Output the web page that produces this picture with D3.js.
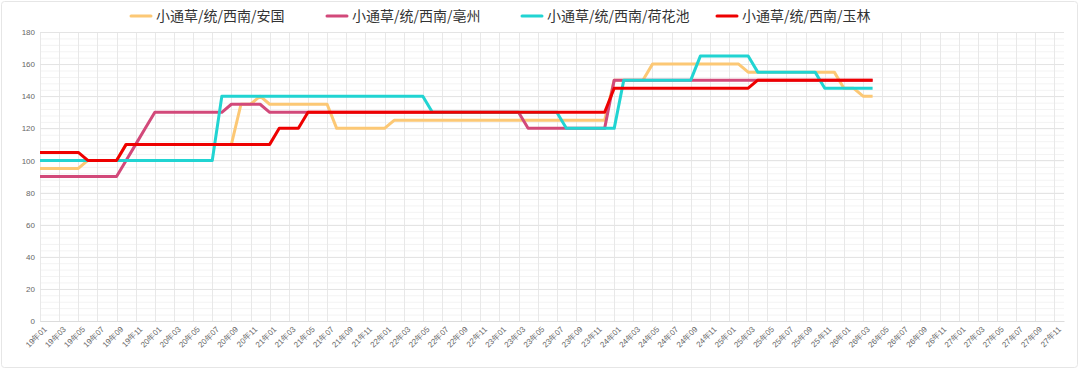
<!DOCTYPE html>
<html lang="zh">
<head>
<meta charset="utf-8">
<title>小通草 价格走势</title>
<script src="https://d3js.org/d3.v7.min.js"></script>
<style>
  body { margin: 0; background: #fff; }
  svg { display: block; font-family: "Noto Sans CJK SC", "Noto Sans", sans-serif; }
  .tick text { fill: #666; font-size: 8px; }
  .legend text { font-size: 14px; fill: #333; }
</style>
</head>
<body>
<svg width="1080" height="374"></svg>
<script>
// months 19年01 .. 27年12
const months = [];
for (let y = 19; y <= 27; y++) {
  for (let m = 1; m <= 12; m++) months.push(y + "年" + String(m).padStart(2, "0"));
}

const names = ["小通草/统/西南/安国", "小通草/统/西南/亳州", "小通草/统/西南/荷花池", "小通草/统/西南/玉林"];
const colors = ["#fcc875", "#d2497a", "#21d4d2", "#ee0000"];

// values from 19年01 to 26年04
const anguo = [
  95, 95, 95, 95, 95, 100, 100, 100, 100, 110, 110, 110,
  110, 110, 110, 110, 110, 110, 110, 110, 110, 135, 135, 140,
  135, 135, 135, 135, 135, 135, 135, 120, 120, 120, 120, 120,
  120, 125, 125, 125, 125, 125, 125, 125, 125, 125, 125, 125,
  125, 125, 125, 125, 125, 125, 125, 125, 125, 125, 125, 125,
  150, 150, 150, 150, 160, 160, 160, 160, 160, 160, 160, 160,
  160, 160, 155, 155, 155, 155, 155, 155, 155, 155, 155, 155,
  145, 145, 140, 140
];
const bozhou = [
  90, 90, 90, 90, 90, 90, 90, 90, 90, 100, 110, 120,
  130, 130, 130, 130, 130, 130, 130, 130, 135, 135, 135, 135,
  130, 130, 130, 130, 130, 130, 130, 130, 130, 130, 130, 130,
  130, 130, 130, 130, 130, 130, 130, 130, 130, 130, 130, 130,
  130, 130, 130, 120, 120, 120, 120, 120, 120, 120, 120, 120,
  150, 150, 150, 150, 150, 150, 150, 150, 150, 150, 150, 150,
  150, 150, 150, 150, 150, 150, 150, 150, 150, 150, 150, 150,
  150, 150, 150, 150
];
const hehuachi = [
  100, 100, 100, 100, 100, 100, 100, 100, 100, 100, 100, 100,
  100, 100, 100, 100, 100, 100, 100, 140, 140, 140, 140, 140,
  140, 140, 140, 140, 140, 140, 140, 140, 140, 140, 140, 140,
  140, 140, 140, 140, 140, 130, 130, 130, 130, 130, 130, 130,
  130, 130, 130, 130, 130, 130, 130, 120, 120, 120, 120, 120,
  120, 150, 150, 150, 150, 150, 150, 150, 150, 165, 165, 165,
  165, 165, 165, 155, 155, 155, 155, 155, 155, 155, 145, 145,
  145, 145, 145, 145
];
const yulin = [
  105, 105, 105, 105, 105, 100, 100, 100, 100, 110, 110, 110,
  110, 110, 110, 110, 110, 110, 110, 110, 110, 110, 110, 110,
  110, 120, 120, 120, 130, 130, 130, 130, 130, 130, 130, 130,
  130, 130, 130, 130, 130, 130, 130, 130, 130, 130, 130, 130,
  130, 130, 130, 130, 130, 130, 130, 130, 130, 130, 130, 130,
  145, 145, 145, 145, 145, 145, 145, 145, 145, 145, 145, 145,
  145, 145, 145, 150, 150, 150, 150, 150, 150, 150, 150, 150,
  150, 150, 150, 150
];
const series = [anguo, bozhou, hehuachi, yulin];

const svg = d3.select("svg");

// card border
svg.append("rect")
  .attr("x", 1.5).attr("y", 1.5).attr("width", 1076).attr("height", 366)
  .attr("rx", 3)
  .attr("fill", "none").attr("stroke", "#e6e6e6");

const x = d3.scalePoint().domain(months).range([40, 1064]);
const y = d3.scaleLinear().domain([0, 180]).range([321, 32]);

// minor horizontal grid
svg.append("g")
  .selectAll("line")
  .data(d3.range(0, 181, 4))
  .join("line")
  .attr("x1", 40).attr("x2", 1064)
  .attr("y1", d => y(d) + 0.5).attr("y2", d => y(d) + 0.5)
  .attr("stroke", "#f3f3f3");

// vertical grid every 2 months
svg.append("g")
  .selectAll("line")
  .data(months.filter((d, i) => i % 2 === 0))
  .join("line")
  .attr("x1", d => Math.round(x(d)) + 0.5).attr("x2", d => Math.round(x(d)) + 0.5)
  .attr("y1", 32).attr("y2", 321)
  .attr("stroke", "#e8e8e8");

// major horizontal grid
svg.append("g")
  .selectAll("line")
  .data(d3.range(0, 181, 20))
  .join("line")
  .attr("x1", 40).attr("x2", 1064)
  .attr("y1", d => Math.round(y(d)) + 0.5).attr("y2", d => Math.round(y(d)) + 0.5)
  .attr("stroke", "#e4e4e4");

// y axis labels
const yAxis = svg.append("g")
  .attr("transform", "translate(40,0)")
  .call(d3.axisLeft(y).tickValues(d3.range(0, 181, 20)).tickSize(0).tickPadding(5));
yAxis.select(".domain").remove();

// x axis
const xAxis = svg.append("g")
  .attr("transform", "translate(0,321)")
  .call(d3.axisBottom(x).tickValues(months.filter((d, i) => i % 2 === 0)).tickSize(0).tickPadding(4));
xAxis.select(".domain").attr("stroke", "#dcdcdc");
xAxis.selectAll(".tick text")
  .attr("text-anchor", "end")
  .attr("dy", "0.35em")
  .attr("transform", "translate(2,4) rotate(-45)");

// lines
const line = d3.line()
  .x((d, i) => x(months[i]))
  .y(d => y(d));

svg.append("g")
  .selectAll("path")
  .data(series)
  .join("path")
  .attr("d", line)
  .attr("fill", "none")
  .attr("stroke", (d, i) => colors[i])
  .attr("stroke-width", 3)
  .attr("stroke-linejoin", "round");

// legend
const legendX = [131, 327, 522, 717];
const legend = svg.append("g").attr("class", "legend");
const items = legend.selectAll("g")
  .data(names)
  .join("g")
  .attr("transform", (d, i) => `translate(${legendX[i]},16)`);
items.append("line")
  .attr("x1", 0).attr("x2", 20)
  .attr("stroke", (d, i) => colors[i])
  .attr("stroke-width", 3)
  .attr("stroke-linecap", "round");
items.append("text")
  .attr("x", 25)
  .attr("dy", "0.35em")
  .text(d => d);
</script>
</body>
</html>
